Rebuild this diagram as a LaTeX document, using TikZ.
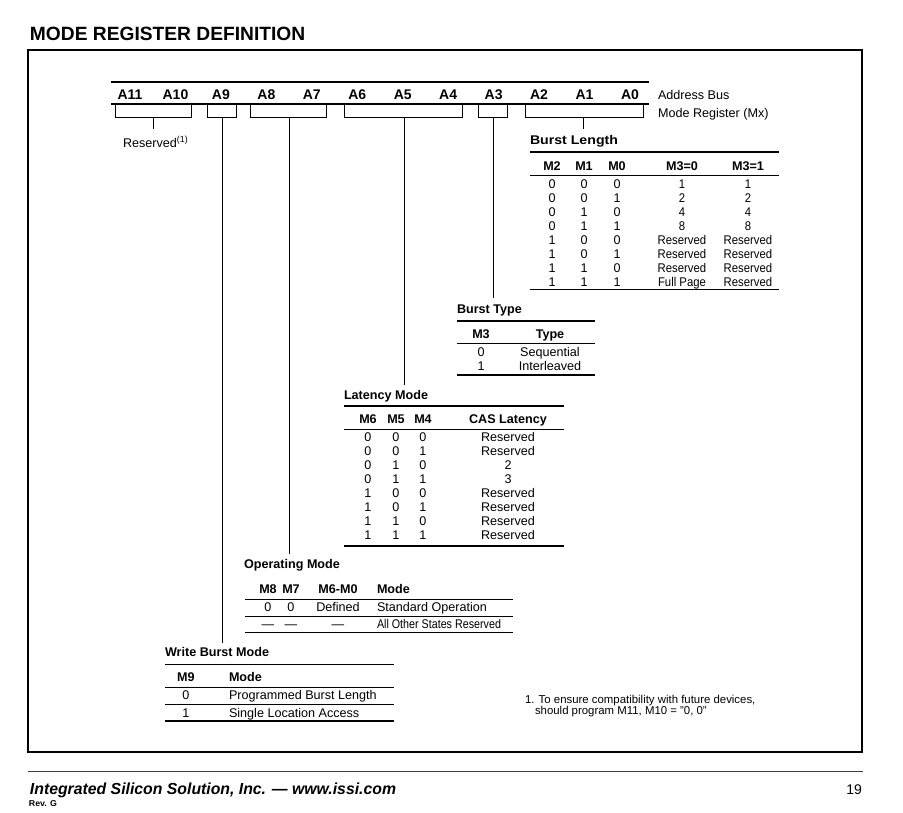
\documentclass[tikz,border=0pt]{standalone}
\usepackage{fontspec}
\setmainfont{Liberation Sans}
\usepackage{graphicx}
\newcommand\bodyf{\fontsize{12.6}{14}\selectfont}
\newcommand\notef{\fontsize{11.4}{13}\selectfont}
\newcommand\cond[1]{\scalebox{0.9}[1]{#1}}
\tikzset{
  t/.style={inner sep=0pt, outer sep=0pt, anchor=base, font=\bodyf},
  tl/.style={t, anchor=base west},
  h/.style={t, font=\bodyf\bfseries},
  hl/.style={h, anchor=base west},
  bus/.style={t, font=\fontsize{14}{16}\selectfont\bfseries},
  thickrule/.style={line width=1.6pt},
  thinrule/.style={line width=0.7pt},
  brk/.style={line width=0.9pt},
  stem/.style={line width=0.9pt},
}
\begin{document}
\begin{tikzpicture}[x=1pt,y=-1pt]
\useasboundingbox (0,0) rectangle (903,812);
% title
\node[hl, font=\fontsize{19.2}{22}\selectfont\bfseries] (title) at (30,40) {MODE REGISTER DEFINITION};
% frame
\draw[line width=1.2pt] (28,50) rectangle (862,752);
% address bus
\draw[thickrule] (111,82) -- (649,82);
\draw[thickrule] (111,104) -- (649,104);
\foreach \i in {11,10,...,0} {
  \node[bus] (a\i) at ({130+(11-\i)*45.45},99) {A\i};
}
\node[tl] (abus) at (658,99) {Address Bus};
\node[tl] (mreg) at (658,117) {Mode Register (Mx)};
% brackets
\draw[brk] (115,104) -- (115,117) -- (191,117) -- (191,104);
\draw[brk] (207,104) -- (207,117) -- (236,117) -- (236,104);
\draw[brk] (250,104) -- (250,117) -- (326,117) -- (326,104);
\draw[brk] (344,104) -- (344,117) -- (462,117) -- (462,104);
\draw[brk] (478,104) -- (478,117) -- (507,117) -- (507,104);
\draw[brk] (525,104) -- (525,117) -- (643,117) -- (643,104);
% stem coordinates
\coordinate (s11) at (153,117); \coordinate (e11) at (153,129);
\coordinate (s9) at (222,117);  \coordinate (e9) at (222,643);
\coordinate (s8) at (289,117);  \coordinate (e8) at (289,554);
\coordinate (s6) at (404,117);  \coordinate (e6) at (404,385);
\coordinate (s3) at (493,117);  \coordinate (e3) at (493,298);
\coordinate (s2) at (583,117);  \coordinate (e2) at (583,129);
\draw[stem] (s11) -- (e11);
\draw[stem] (s9) -- (e9);
\draw[stem] (s8) -- (e8);
\draw[stem] (s6) -- (e6);
\draw[stem] (s3) -- (e3);
\draw[stem] (s2) -- (e2);
\node[tl] (resv) at (123,147) {Reserved\textsuperscript{(1)}};

% ---------- Burst Length ----------
\node[hl] (blt) at (530,144.5) {\resizebox{88pt}{\height}{Burst Length}};
\draw[thickrule] (530,151.7) -- (779,151.7);
\node[h] (blh1) at (552,170.2) {M2};
\node[h] (blh2) at (584,170.2) {M1};
\node[h] (blh3) at (617,170.2) {M0};
\node[h] (blh4) at (682,170.2) {M3=0};
\node[h] (blh5) at (748,170.2) {M3=1};
\draw[thinrule] (530,175) -- (779,175);
\foreach \a/\b/\c/\d/\e [count=\k from 0] in {0/0/0/1/1,0/0/1/2/2,0/1/0/4/4,0/1/1/8/8,1/0/0/Reserved/Reserved,1/0/1/Reserved/Reserved,1/1/0/Reserved/Reserved,1/1/1/Full Page/Reserved} {
  \node[t] (bl\k a) at (552,{188+\k*14.05}) {\a};
  \node[t] (bl\k b) at (584,{188+\k*14.05}) {\b};
  \node[t] (bl\k c) at (617,{188+\k*14.05}) {\c};
  \node[t] (bl\k d) at (682,{188+\k*14.05}) {\cond{\d}};
  \node[t] (bl\k e) at (748,{188+\k*14.05}) {\cond{\e}};
}
\draw[thickrule] (530,289.3) -- (779,289.3);

% ---------- Burst Type ----------
\node[hl] (btt) at (457,313.5) {Burst Type};
\draw[thickrule] (457,320.7) -- (595,320.7);
\node[h] (bth1) at (481,338.5) {M3};
\node[h] (bth2) at (550,338.5) {Type};
\draw[thinrule] (457,343) -- (595,343);
\node[t] (bt0a) at (481,356.2) {0};
\node[t] (bt0b) at (550,356.2) {Sequential};
\node[t] (bt1a) at (481,370.5) {1};
\node[t] (bt1b) at (550,370.5) {Interleaved};
\draw[thickrule] (457,375) -- (595,375);

% ---------- Latency Mode ----------
\node[hl] (lmt) at (344,399.5) {Latency Mode};
\draw[thickrule] (344,406) -- (564,406);
\node[h] (lmh1) at (368,423.5) {M6};
\node[h] (lmh2) at (396,423.5) {M5};
\node[h] (lmh3) at (423,423.5) {M4};
\node[h] (lmh4) at (508,423.5) {CAS Latency};
\draw[thinrule] (344,429) -- (564,429);
\foreach \a/\b/\c/\d [count=\k from 0] in {0/0/0/Reserved,0/0/1/Reserved,0/1/0/2,0/1/1/3,1/0/0/Reserved,1/0/1/Reserved,1/1/0/Reserved,1/1/1/Reserved} {
  \node[t] (lm\k a) at (368,{441.8+\k*14.0}) {\a};
  \node[t] (lm\k b) at (396,{441.8+\k*14.0}) {\b};
  \node[t] (lm\k c) at (423,{441.8+\k*14.0}) {\c};
  \node[t] (lm\k d) at (508,{441.8+\k*14.0}) {\d};
}
\draw[thickrule] (344,545.7) -- (564,545.7);

% ---------- Operating Mode ----------
\node[hl] (omt) at (244,568.5) {Operating Mode};
\node[h] (omh1) at (268,593.5) {M8};
\node[h] (omh2) at (291,593.5) {M7};
\node[h] (omh3) at (338,593.5) {M6-M0};
\node[hl] (omh4) at (377,593.5) {Mode};
\draw[thinrule] (245,599) -- (513,599);
\node[t] (om0a) at (268,611.5) {0};
\node[t] (om0b) at (291,611.5) {0};
\node[t] (om0c) at (338,611.5) {Defined};
\node[tl] (om0d) at (377,611.5) {Standard Operation};
\draw[thinrule] (245,616.7) -- (513,616.7);
\node[t] (om1a) at (268,628.5) {—};
\node[t] (om1b) at (291,628.5) {—};
\node[t] (om1c) at (338,628.5) {—};
\node[tl] (om1d) at (377,628.5) {\resizebox{124pt}{\height}{All Other States Reserved}};
\draw[thickrule] (245,632.3) -- (513,632.3);

% ---------- Write Burst Mode ----------
\node[hl] (wbt) at (165,656.5) {Write Burst Mode};
\draw[thickrule] (165,664.3) -- (394,664.3);
\node[h] (wbh1) at (186,681) {M9};
\node[hl] (wbh2) at (229,681) {Mode};
\draw[thinrule] (165,687.7) -- (394,687.7);
\node[t] (wb0a) at (186,699.5) {0};
\node[tl] (wb0b) at (229,699.5) {Programmed Burst Length};
\draw[thinrule] (165,704.3) -- (394,704.3);
\node[t] (wb1a) at (186,717) {1};
\node[tl] (wb1b) at (229,717) {Single Location Access};
\draw[thickrule] (165,721) -- (394,721);

% ---------- footnote ----------
\node[tl, font=\notef] (fn1) at (525,703) {1. To ensure compatibility with future devices,};
\node[tl, font=\notef] (fn2) at (535,714.8) {should program M11, M10 = "0, 0"};

% ---------- footer ----------
\draw[line width=1.2pt, black!75] (28,771.7) -- (862.5,771.7);
\node[tl, font=\fontsize{16}{18}\selectfont\bfseries\itshape] (foot) at (30,794.5) {\resizebox{366pt}{\height}{Integrated Silicon Solution, Inc. — www.issi.com}};
\node[tl, font=\fontsize{8.5}{10}\selectfont\bfseries] (rev) at (29,806) {\resizebox{28pt}{\height}{Rev. G}};
\node[t, anchor=base east, font=\fontsize{14}{16}\selectfont] (page) at (862,794) {19};
\end{tikzpicture}
\end{document}
